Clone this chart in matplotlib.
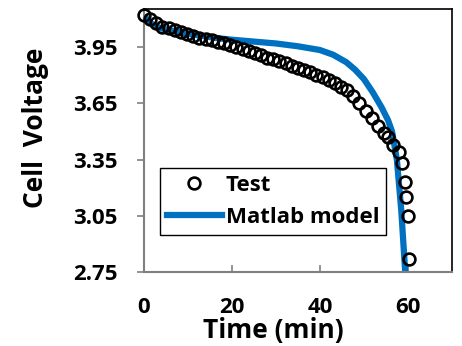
import matplotlib.pyplot as plt
from matplotlib.lines import Line2D

plt.rcParams['font.family'] = ['Open Sans', 'DejaVu Sans']
plt.rcParams['font.weight'] = 'bold'

# measured test points (min, V)
test_time = [0, 1.4, 2.8, 4.2, 5.6, 7.0, 8.4, 9.8, 11.2, 12.6, 14.0, 15.4, 16.8,
             18.2, 19.6, 21.0, 22.4, 23.8, 25.2, 26.6, 28.0, 29.4, 30.8, 32.2,
             33.6, 35.0, 36.4, 37.8, 39.2, 40.6, 42.0, 43.4, 44.8, 46.2, 47.6,
             49.0, 50.4, 51.8, 53.2, 54.6, 55.4, 56.6, 58.0, 58.6, 59.3, 59.5,
             60.0, 60.2]
test_volt = [4.12, 4.10, 4.08, 4.06, 4.05, 4.04, 4.03, 4.02, 4.01, 4.00, 3.995,
             3.99, 3.98, 3.97, 3.96, 3.95, 3.94, 3.93, 3.92, 3.91, 3.895, 3.885,
             3.875, 3.865, 3.85, 3.84, 3.83, 3.815, 3.80, 3.79, 3.775, 3.76, 3.74,
             3.72, 3.69, 3.65, 3.61, 3.57, 3.53, 3.49, 3.47, 3.43, 3.39, 3.33,
             3.23, 3.15, 3.05, 2.82]

# Matlab model curve
model_time = [0, 1, 2, 4, 8, 12, 16, 20, 25, 30, 35, 40, 43, 46, 48, 50, 52,
              54, 55.5, 56.4, 57.5, 58.5, 59.4]
model_volt = [4.12, 4.09, 4.07, 4.05, 4.03, 4.015, 4.00, 3.99, 3.98, 3.97,
              3.955, 3.935, 3.91, 3.87, 3.83, 3.78, 3.71, 3.63, 3.56, 3.50,
              3.35, 3.08, 2.75]

fig = plt.figure(figsize=(4.62, 3.46), dpi=100)
ax = fig.add_axes([0.3117, 0.2139, 0.978 - 0.3117, 0.974 - 0.2139])

ax.plot(test_time, test_volt, 'o', mfc='none', mec='black', ms=8.5, mew=1.9,
        clip_on=False, zorder=3)
ax.plot(model_time, model_volt, '-', color='#0070C0', lw=4.5, solid_capstyle='butt',
        zorder=2)

ax.set_xlim(0, 70)
ax.set_ylim(2.75, 4.154)
ax.set_xticks([0, 20, 40, 60])
ax.set_yticks([2.75, 3.05, 3.35, 3.65, 3.95])
ax.set_yticklabels(['2.75', '3.05', '3.35', '3.65', '3.95'])

for s in ['left', 'bottom']:
    ax.spines[s].set_color('#808080')
    ax.spines[s].set_linewidth(1.5)
for s in ['top', 'right']:
    ax.spines[s].set_color('black')
    ax.spines[s].set_linewidth(1.2)

ax.tick_params(axis='y', direction='out', length=5, width=1.2, color='#808080',
               labelsize=16, pad=14)
ax.tick_params(axis='x', direction='in', length=5, width=1.2, color='#808080',
               labelsize=16, pad=18)

ax.set_xlabel('Time (min)', fontsize=19, fontweight='bold')
ax.xaxis.set_label_coords(0.419, -0.172)
ax.set_ylabel('Cell  Voltage', fontsize=19, fontweight='bold')
ax.yaxis.set_label_coords(-0.31, 0.547)

handles = [Line2D([], [], ls='none', marker='o', mfc='none', mec='black', ms=8.5, mew=1.9),
           Line2D([], [], color='#0070C0', lw=4.5)]
leg = ax.legend(handles, ['Test', 'Matlab model'], loc='upper left',
                bbox_to_anchor=(0.052, 0.395), fancybox=False, frameon=True,
                edgecolor='black', framealpha=1, handlelength=2.5,
                handletextpad=0.15, borderpad=0.3, labelspacing=0.5,
                borderaxespad=0, prop={'size': 16, 'weight': 'bold'})
leg.get_frame().set_linewidth(1.0)

fig.savefig('out.png', dpi=100)
